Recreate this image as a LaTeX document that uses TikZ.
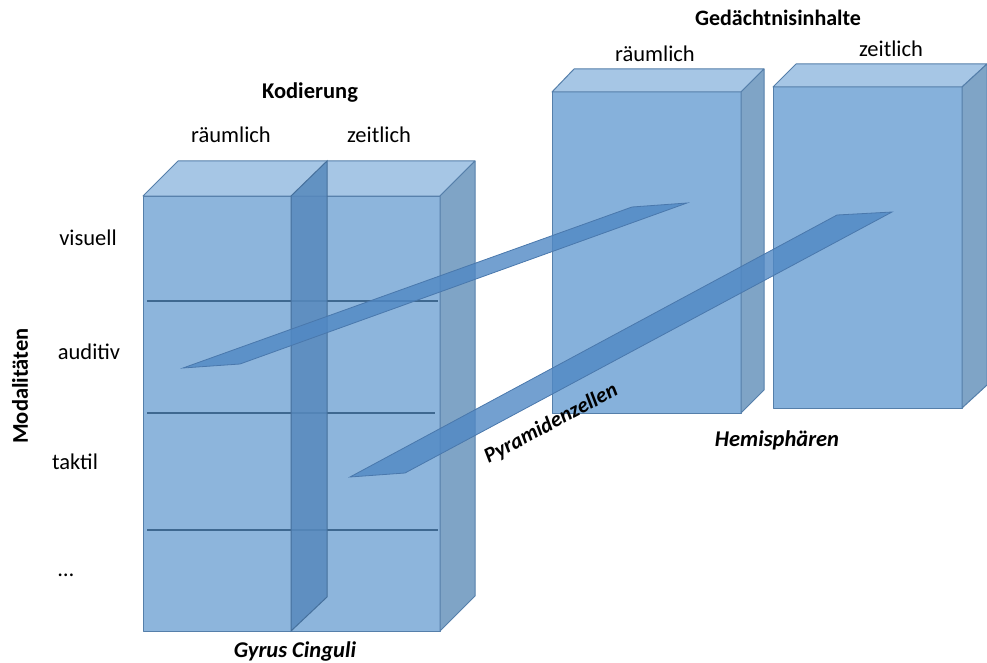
\documentclass[tikz,border=0pt]{standalone}
\usepackage{fontspec}
\setmainfont{Carlito}
\begin{document}
\begin{tikzpicture}[x=1pt,y=-1pt,
  edge/.style={draw=edgeblue,line width=1pt,line join=round},
  frontface/.style={edge,fill=frontblue},
  topface/.style={edge,fill=topblue},
  sideface/.style={edge,fill=sideblue},
  slabface/.style={draw=slabedge,line width=1pt,fill=slabblue,fill opacity=0.85},
  beam/.style={draw=beamedge,line width=0.8pt,fill=beamblue,fill opacity=0.8},
  rowline/.style={draw=lineblue,line width=1.2pt},
  lbl/.style={font=\fontsize{22.5}{26}\selectfont,inner sep=0pt},
  head/.style={font=\bfseries\fontsize{22.5}{26}\selectfont,inner sep=0pt},
  captext/.style={font=\bfseries\itshape\fontsize{22.5}{26}\selectfont,inner sep=0pt}]
\definecolor{edgeblue}{HTML}{557FAA}
\definecolor{frontblue}{HTML}{8DB5DC}
\definecolor{topblue}{HTML}{A6C6E5}
\definecolor{sideblue}{HTML}{7FA4C6}
\definecolor{slabblue}{HTML}{5789BD}
\definecolor{slabedge}{HTML}{46709C}
\definecolor{beamblue}{HTML}{5088C4}
\definecolor{beamedge}{HTML}{4A78AC}
\definecolor{lineblue}{HTML}{3E6890}
\definecolor{rfront}{HTML}{86B1DB}
\useasboundingbox (0,0) rectangle (987,663);
% left block
\path[frontface] (143,196) rectangle (440,631);
\path[topface] (143,196) -- (178,161) -- (475,161) -- (440,196) -- cycle;
\path[sideface] (440,196) -- (475,161) -- (475,596) -- (440,631) -- cycle;
\draw[rowline] (147,301) -- (438,301);
\draw[rowline] (147,413) -- (435,413);
\draw[rowline] (147,530) -- (438,530);
\path[slabface] (291,196) -- (327,161) -- (327,597) -- (291,631) -- cycle;
% right boxes
\path[frontface,fill=rfront] (552,92) rectangle (741,413);
\path[topface] (552,92) -- (574,69) -- (764,69) -- (741,92) -- cycle;
\path[sideface] (741,92) -- (764,69) -- (764,390) -- (741,413) -- cycle;
\path[frontface,fill=rfront] (773,87) rectangle (962,408);
\path[topface] (773,87) -- (796,64) -- (987,64) -- (962,87) -- cycle;
\path[sideface] (962,87) -- (987,64) -- (987,385) -- (962,408) -- cycle;
% beams
\path[beam] (183,368) -- (240,364) -- (687,203) -- (632,207) -- cycle;
\path[beam] (350,477) -- (405,473) -- (892,212) -- (837,215) -- cycle;
% texts
\node[head] (kod) at (310,93) {Kodierung};
\node[lbl] (kr) at (231,135) {räumlich};
\node[lbl] (kz) at (379,135) {zeitlich};
\node[head,font=\bfseries\fontsize{22}{26}\selectfont] (ged) at (778,18) {Gedächtnisinhalte};
\node[lbl] (gr) at (655,54) {räumlich};
\node[lbl] (gz) at (891,49) {zeitlich};
\node[lbl] (vis) at (88,238) {visuell};
\node[lbl] (aud) at (89,352) {auditiv};
\node[lbl] (tak) at (75,462) {taktil};
\node[lbl] (dots) at (66,575) {…};
\node[head,rotate=90] (mod) at (20,386) {Modalitäten};
\node[captext] (gyr) at (295,651) {Gyrus Cinguli};
\node[captext] (hem) at (777,440) {Hemisphären};
\node[captext,font=\bfseries\itshape\fontsize{21.5}{25}\selectfont,rotate=28] (pyr) at (551,424) {Pyramidenzellen};
\end{tikzpicture}
\end{document}
